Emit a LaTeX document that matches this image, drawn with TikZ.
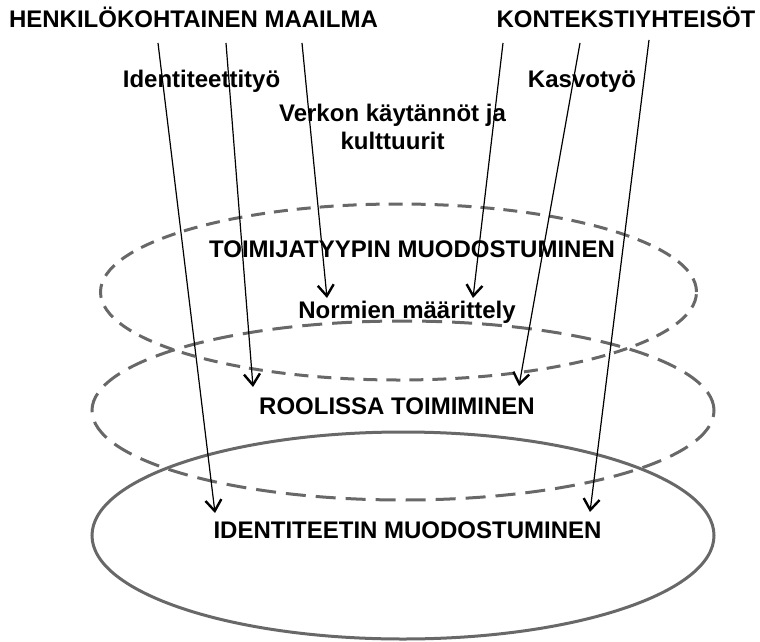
\documentclass[tikz,border=0pt]{standalone}
\usepackage{fontspec}
\setmainfont{Liberation Sans}
\usepackage{tikz}
\usetikzlibrary{shapes.geometric, arrows.meta}
\definecolor{ringgray}{RGB}{104,104,104}

\begin{document}
\begin{tikzpicture}[x=1pt, y=-1pt,
    label/.style={font=\bfseries\fontsize{24}{28}\selectfont, anchor=base, inner sep=0pt, align=center},
    ring/.style={ellipse, draw=ringgray, line width=3pt, inner sep=0pt},
    flow/.style={line width=1.2pt, -{Straight Barb[length=11pt, width=16pt, line width=2.4pt]}}]
    \useasboundingbox (0,0) rectangle (760,642);

    % Draw the three levels
    \node[ring, dash pattern=on 14pt off 9pt, minimum width=596pt, minimum height=176pt] (TopRing) at (398.5,292) {};
    \node[ring, dash pattern=on 20pt off 10pt, minimum width=622pt, minimum height=179pt] (MidRing) at (403,410.5) {};
    \node[ring, minimum width=622pt, minimum height=207pt] (LowRing) at (403,535.5) {};

    % Labels
    \node[label] (Maailma) at (193.5,28) {HENKILÖKOHTAINEN MAAILMA};
    \node[label] (Yhteisot) at (626,28) {KONTEKSTIYHTEISÖT};
    \node[label] (Idtyo) at (201.5,88) {Identiteettityö};
    \node[label] (Verkko) at (392.5,149) {Verkon käytännöt ja\\kulttuurit};
    \node[label] (Kasvo) at (582,88) {Kasvotyö};
    \node[label] (Toimija) at (412,257) {TOIMIJATYYPIN MUODOSTUMINEN};
    \node[label] (Normit) at (407,318) {Normien määrittely};
    \node[label] (Rooli) at (397,414) {ROOLISSA TOIMIMINEN};
    \node[label] (Identiteetti) at (407.5,538) {IDENTITEETIN MUODOSTUMINEN};

    % Define coordinates for the arrow ends
    \coordinate (M1) at (158,43);
    \coordinate (M2) at (226,43);
    \coordinate (M3) at (302,43);
    \coordinate (K1) at (503,43);
    \coordinate (K2) at (580,43);
    \coordinate (K3) at (649,40);
    \coordinate (E1) at (215,513);
    \coordinate (E2) at (253,387);
    \coordinate (E3) at (327,298);
    \coordinate (F1) at (473,298);
    \coordinate (F2) at (519,386);
    \coordinate (F3) at (590,512);

    % Connect the arrows
    \foreach \s/\e in {M1/E1, M2/E2, M3/E3, K1/F1, K2/F2, K3/F3}
        \draw[flow] (\s) -- (\e);
\end{tikzpicture}
\end{document}
